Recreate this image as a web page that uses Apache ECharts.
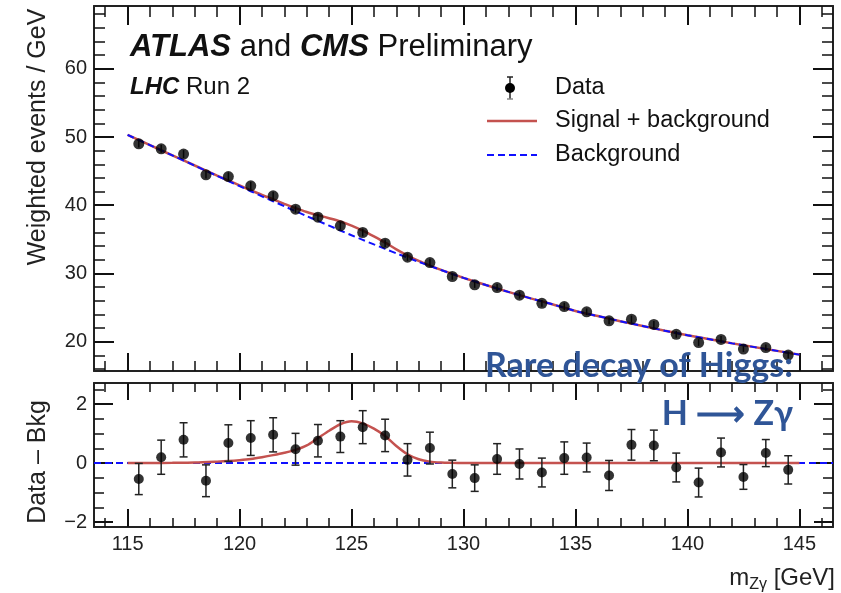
<!DOCTYPE html>
<html lang="en">
<head>
<meta charset="UTF-8">
<title>H to Z gamma</title>
<script src="https://cdn.jsdelivr.net/npm/echarts@6/dist/echarts.min.js"></script>
<style>
  html, body { margin: 0; padding: 0; background: #fff; }
  #main { width: 841px; height: 593px; }
</style>
</head>
<body>
<div id="main"></div>
<script>
// bins of 1 GeV
var binCenters = [115.5, 116.5, 117.5, 118.5, 119.5, 120.5, 121.5, 122.5, 123.5, 124.5,
                  125.5, 126.5, 127.5, 128.5, 129.5, 130.5, 131.5, 132.5, 133.5, 134.5,
                  135.5, 136.5, 137.5, 138.5, 139.5, 140.5, 141.5, 142.5, 143.5, 144.5];
var weightedEvents = [49.0, 48.27, 47.5, 44.46, 44.2, 42.85, 41.38, 39.42, 38.25, 36.98,
                      36.0, 34.44, 32.39, 31.6, 29.55, 28.33, 27.93, 26.82, 25.62, 25.15,
                      24.38, 23.05, 23.3, 22.52, 21.08, 19.87, 20.33, 18.92, 19.14, 18.03];
var residuals = [-0.54, 0.2, 0.79, -0.6, 0.68, 0.85, 0.96, 0.47, 0.76, 0.9,
                 1.22, 0.94, 0.11, 0.51, -0.37, -0.51, 0.14, -0.03, -0.32, 0.17,
                 0.19, -0.42, 0.62, 0.6, -0.15, -0.66, 0.36, -0.47, 0.34, -0.23];
var errors = [0.53, 0.58, 0.58, 0.54, 0.62, 0.59, 0.58, 0.54, 0.55, 0.54,
              0.56, 0.55, 0.55, 0.54, 0.47, 0.45, 0.52, 0.51, 0.49, 0.55,
              0.49, 0.51, 0.52, 0.52, 0.49, 0.49, 0.49, 0.42, 0.46, 0.48];

// fit curves
var curveMass = [115, 116, 117, 118, 119, 119.5, 120, 120.5, 121, 121.5, 122, 122.5, 123, 123.5,
                 124, 124.5, 125, 125.5, 126, 126.5, 127, 127.5, 128, 128.5, 129, 129.5, 130,
                 131, 132, 133, 134, 135, 136, 137, 138, 139, 140, 141, 142, 143, 144, 145];
var bkgCurve = [50.3, 48.8, 47.3, 45.8, 44.3, 43.55, 42.8, 42.05, 41.3, 40.58, 39.85, 39.12, 38.4, 37.7,
                37.0, 36.3, 35.6, 34.92, 34.25, 33.6, 32.95, 32.32, 31.7, 31.1, 30.5, 29.92, 29.35,
                28.3, 27.3, 26.35, 25.45, 24.5, 23.75, 23.0, 22.3, 21.6, 20.95, 20.35, 19.75, 19.2, 18.65, 18.1];
var sigCurve = [0, 0.005, 0.01, 0.02, 0.05, 0.07, 0.1, 0.14, 0.2, 0.27, 0.35, 0.45, 0.6, 0.85,
                1.1, 1.32, 1.42, 1.35, 1.17, 0.92, 0.58, 0.3, 0.13, 0.05, 0.02, 0.01, 0.005,
                0, 0, 0, 0, 0, 0, 0, 0, 0, 0, 0, 0, 0, 0, 0];
var bkgResidual = [[113.5, 0], [146.5, 0]];

// ticks
var xMajor = [115, 120, 125, 130, 135, 140, 145];
var xMinor = [114, 116, 117, 118, 119, 121, 122, 123, 124, 126, 127, 128, 129, 131, 132, 133, 134,
              136, 137, 138, 139, 141, 142, 143, 144, 146];
var yTopMajor = [20, 30, 40, 50, 60];
var yTopMinor = [16, 18, 22, 24, 26, 28, 32, 34, 36, 38, 42, 44, 46, 48, 52, 54, 56, 58, 62, 64, 66, 68];
var yBotMajor = [-2, 0, 2];
var yBotMinor = [-1.5, -1, -0.5, 0.5, 1, 1.5, 2.5];

var X_MIN = 113.5, X_MAX = 146.5;
var FONT = "'Liberation Sans', Arial, sans-serif";
var NOTE_FONT = "bold 34px Lato, 'Open Sans', sans-serif";

var chart = echarts.init(document.getElementById('main'));

// one axis (major or minor ticks) for one side of a panel
function makeAxis(gridIndex, pos, min, max, ticks, len, withLine, labels) {
  return {
    type: 'value', gridIndex: gridIndex, position: pos, min: min, max: max,
    axisLine: { show: withLine, onZero: false, lineStyle: { color: '#222', width: 2 } },
    axisTick: { show: true, inside: true, length: len, customValues: ticks,
                lineStyle: { color: '#111', width: withLine ? 2 : 1.5 } },
    axisLabel: labels ? { show: true, customValues: ticks, color: '#222', fontSize: 20,
                          fontFamily: FONT, margin: 7,
                          formatter: function (v) { return String(v).replace('-', '\u2212'); } }
                      : { show: false },
    splitLine: { show: false }
  };
}

var xAxes = [
  makeAxis(0, 'bottom', X_MIN, X_MAX, xMajor, 18, true, false),
  makeAxis(0, 'bottom', X_MIN, X_MAX, xMinor, 10, false, false),
  makeAxis(0, 'top', X_MIN, X_MAX, xMajor, 19, true, false),
  makeAxis(0, 'top', X_MIN, X_MAX, xMinor, 11, false, false),
  makeAxis(1, 'bottom', X_MIN, X_MAX, xMajor, 18, true, true),
  makeAxis(1, 'bottom', X_MIN, X_MAX, xMinor, 9, false, false),
  makeAxis(1, 'top', X_MIN, X_MAX, xMajor, 17, true, false),
  makeAxis(1, 'top', X_MIN, X_MAX, xMinor, 9, false, false)
];
var yAxes = [
  makeAxis(0, 'left', 15.7, 69.2, yTopMajor, 20, true, true),
  makeAxis(0, 'left', 15.7, 69.2, yTopMinor, 11, false, false),
  makeAxis(0, 'right', 15.7, 69.2, yTopMajor, 20, true, false),
  makeAxis(0, 'right', 15.7, 69.2, yTopMinor, 11, false, false),
  makeAxis(1, 'left', -2.17, 2.72, yBotMajor, 19, true, true),
  makeAxis(1, 'left', -2.17, 2.72, yBotMinor, 10, false, false),
  makeAxis(1, 'right', -2.17, 2.72, yBotMajor, 19, true, false),
  makeAxis(1, 'right', -2.17, 2.72, yBotMinor, 10, false, false)
];

function pairs(xs, ys) {
  return xs.map(function (x, i) { return [x, ys[i]]; });
}

function errorBars(xi, yi, vals, caps) {
  return {
    type: 'custom', xAxisIndex: xi, yAxisIndex: yi, z: 3,
    data: binCenters.map(function (m, i) { return [m, vals[i], errors[i]]; }),
    renderItem: function (params, api) {
      var x = api.value(0), y = api.value(1), e = api.value(2);
      var p1 = api.coord([x, y + e]), p2 = api.coord([x, y - e]);
      var hw = 4, st = { stroke: '#222', lineWidth: 1.5 };
      var kids = [{ type: 'line', shape: { x1: p1[0], y1: p1[1], x2: p2[0], y2: p2[1] }, style: st }];
      if (caps) {
        kids.push({ type: 'line', shape: { x1: p1[0] - hw, y1: p1[1], x2: p1[0] + hw, y2: p1[1] }, style: st });
        kids.push({ type: 'line', shape: { x1: p2[0] - hw, y1: p2[1], x2: p2[0] + hw, y2: p2[1] }, style: st });
      }
      return { type: 'group', children: kids };
    }
  };
}

var sbCurve = curveMass.map(function (m, i) { return [m, bkgCurve[i] + sigCurve[i]]; });

var RED = '#c4524f', BLUE = '#1010ff';

var option = {
  animation: false,
  backgroundColor: '#fff',
  grid: [
    { left: 94, top: 6, width: 739, height: 365, outerBoundsMode: 'none' },
    { left: 94, top: 383, width: 739, height: 144, outerBoundsMode: 'none' }
  ],
  xAxis: xAxes,
  yAxis: yAxes,
  series: [
    { type: 'line', xAxisIndex: 0, yAxisIndex: 0, data: sbCurve, showSymbol: false, smooth: 0.3,
      lineStyle: { color: RED, width: 2.5 }, z: 2 },
    { type: 'line', xAxisIndex: 0, yAxisIndex: 0, data: pairs(curveMass, bkgCurve), showSymbol: false,
      smooth: 0.3, lineStyle: { color: BLUE, width: 2, type: [7, 4] }, z: 2 },
    errorBars(0, 0, weightedEvents, false),
    { type: 'scatter', xAxisIndex: 0, yAxisIndex: 0, data: pairs(binCenters, weightedEvents),
      symbolSize: 11, itemStyle: { color: '#000' }, z: 4 },

    { type: 'line', xAxisIndex: 4, yAxisIndex: 4, data: bkgResidual, showSymbol: false,
      lineStyle: { color: BLUE, width: 2, type: [7, 4] }, z: 2 },
    { type: 'line', xAxisIndex: 4, yAxisIndex: 4, data: pairs(curveMass, sigCurve), showSymbol: false,
      smooth: 0.3, lineStyle: { color: RED, width: 2.5 }, z: 2 },
    errorBars(4, 4, residuals, true),
    { type: 'scatter', xAxisIndex: 4, yAxisIndex: 4, data: pairs(binCenters, residuals),
      symbolSize: 10, itemStyle: { color: '#000' }, z: 4 }
  ],
  graphic: [
    { type: 'text', left: 130, top: 32, z: 10, style: {
        text: '{b|ATLAS} and {b|CMS} Preliminary', fill: '#111', font: '31px ' + FONT,
        rich: { b: { fontStyle: 'italic', fontWeight: 'bold', fontSize: 31, fontFamily: FONT, fill: '#111' } } } },
    { type: 'text', left: 130, top: 75, z: 10, style: {
        text: '{b|LHC} Run 2', fill: '#111', font: '24px ' + FONT,
        rich: { b: { fontStyle: 'italic', fontWeight: 'bold', fontSize: 24, fontFamily: FONT, fill: '#111' } } } },

    // legend
    { type: 'line', shape: { x1: 510, y1: 77, x2: 510, y2: 99 }, style: { stroke: '#222', lineWidth: 1.5 } },
    { type: 'line', shape: { x1: 507, y1: 77, x2: 513, y2: 77 }, style: { stroke: '#222', lineWidth: 1.5 } },
    { type: 'line', shape: { x1: 507, y1: 99, x2: 513, y2: 99 }, style: { stroke: '#888', lineWidth: 1.5 } },
    { type: 'circle', shape: { cx: 510, cy: 88, r: 5 }, style: { fill: '#000' } },
    { type: 'line', shape: { x1: 487, y1: 121, x2: 537, y2: 121 }, style: { stroke: RED, lineWidth: 2.5 } },
    { type: 'line', shape: { x1: 487, y1: 155, x2: 537, y2: 155 },
      style: { stroke: BLUE, lineWidth: 2, lineDash: [7, 4] } },
    { type: 'text', x: 555, y: 88, style: { text: 'Data', font: '23.5px ' + FONT, fill: '#111', textVerticalAlign: 'middle' } },
    { type: 'text', x: 555, y: 121, style: { text: 'Signal + background', font: '23.5px ' + FONT, fill: '#111', textVerticalAlign: 'middle' } },
    { type: 'text', x: 555, y: 155, style: { text: 'Background', font: '23.5px ' + FONT, fill: '#111', textVerticalAlign: 'middle' } },

    // axis titles
    { type: 'text', x: 38, y: 137, rotation: Math.PI / 2, style: {
        text: 'Weighted events / GeV', font: '25px ' + FONT, fill: '#222',
        textAlign: 'center', textVerticalAlign: 'middle' } },
    { type: 'text', x: 38, y: 462, rotation: Math.PI / 2, style: {
        text: 'Data – Bkg', font: '25px ' + FONT, fill: '#222',
        textAlign: 'center', textVerticalAlign: 'middle' } },
    { type: 'text', x: 835, y: 578, style: {
        text: '{n|m}{s|Zγ}{n| [GeV]}', font: '24px ' + FONT, fill: '#222',
        textAlign: 'right', textVerticalAlign: 'middle',
        rich: {
          n: { fontSize: 24, fontFamily: FONT, fill: '#222', verticalAlign: 'middle' },
          s: { fontSize: 16, fontFamily: FONT, fill: '#222', verticalAlign: 'top', padding: [14, 0, 0, 0] }
        } } },

    // annotation
    { type: 'text', x: 793, y: 366, z: 20, style: {
        text: 'Rare decay of Higgs:', font: NOTE_FONT, fill: '#2f5597',
        textAlign: 'right', textVerticalAlign: 'middle' } },
    { type: 'text', x: 793, y: 414, z: 20, style: {
        text: 'H \u27F6 Zγ', font: NOTE_FONT, fill: '#2f5597',
        textAlign: 'right', textVerticalAlign: 'middle' } }
  ]
};

chart.setOption(option);
</script>
</body>
</html>
